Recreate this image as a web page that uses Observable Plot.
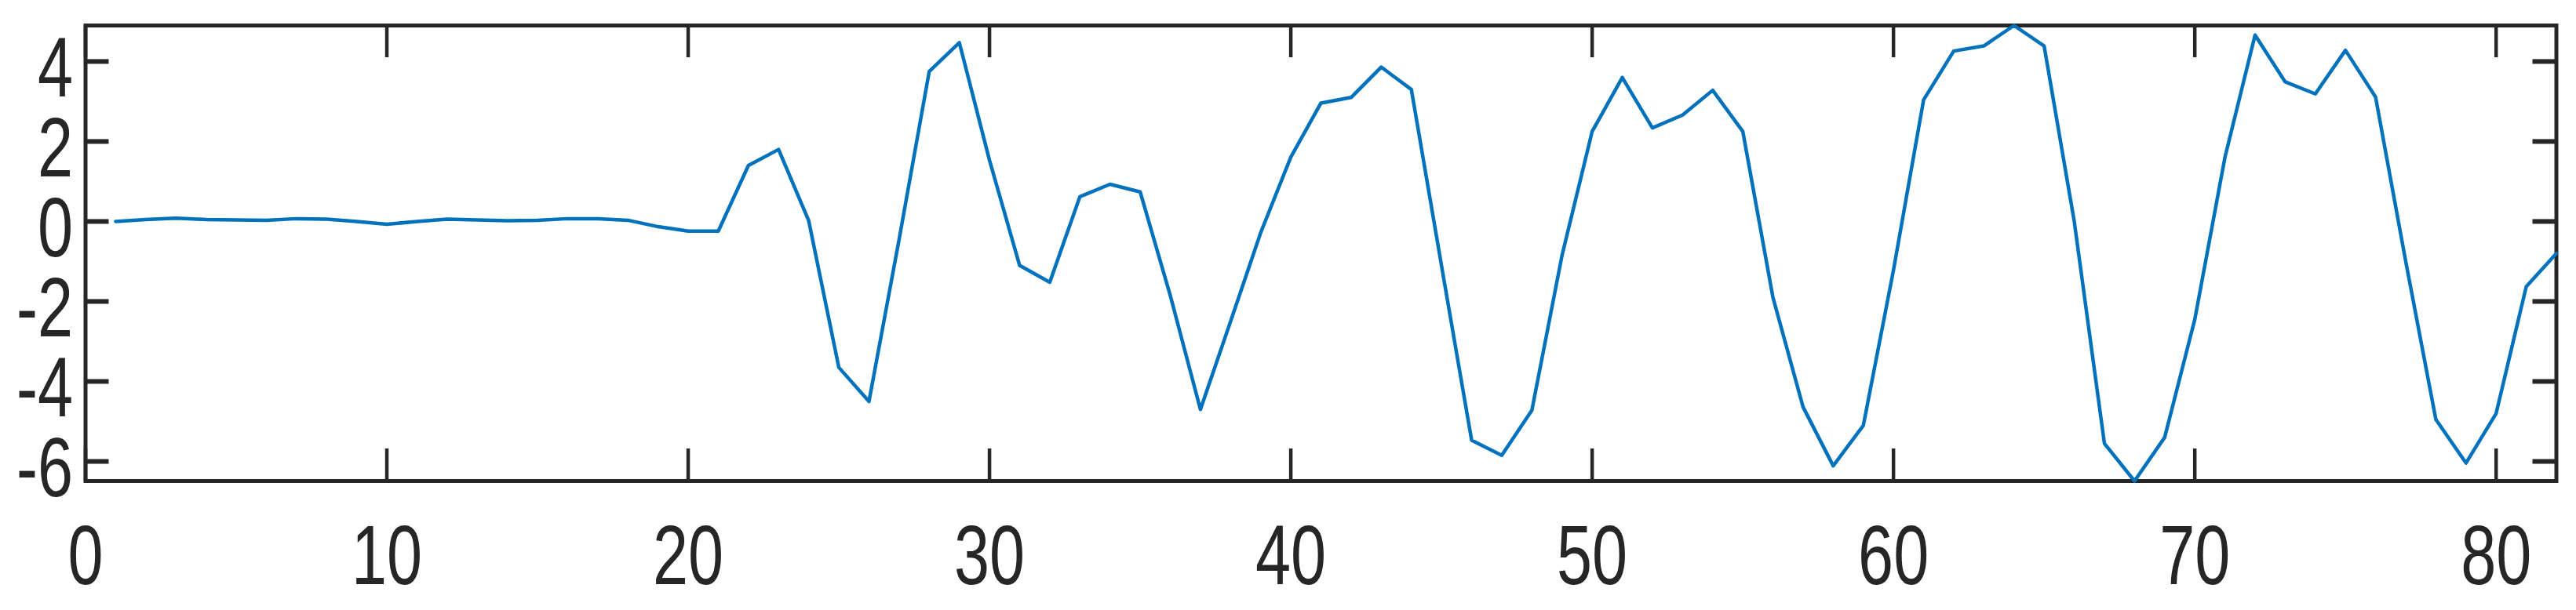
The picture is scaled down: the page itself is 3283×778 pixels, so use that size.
<!DOCTYPE html>
<html>
<head>
<meta charset="utf-8">
<script src="https://cdn.jsdelivr.net/npm/d3@7"></script>
<script src="https://cdn.jsdelivr.net/npm/@observablehq/plot@0.6"></script>
<style>
  html, body { margin: 0; padding: 0; background: #fff; }
</style>
</head>
<body>
<div id="chart"></div>
<script>
const xValues = [1,2,3,4,5,6,7,8,9,10,11,12,13,14,15,16,17,18,19,20,
  21,22,23,24,25,26,27,28,29,30,31,32,33,34,35,36,37,38,39,40,
  41,42,43,44,45,46,47,48,49,50,51,52,53,54,55,56,57,58,59,60,
  61,62,63,64,65,66,67,68,69,70,71,72,73,74,75,76,77,78,79,80,81,82];
const yValues = [0.0,0.05,0.08,0.05,0.04,0.03,0.07,0.06,0.0,-0.07,
  0.0,0.06,0.04,0.02,0.03,0.07,0.07,0.03,-0.13,-0.24,
  -0.24,1.4,1.8,0.02,-3.65,-4.5,-0.45,3.75,4.47,1.53,
  -1.1,-1.52,0.62,0.93,0.74,-1.85,-4.7,-2.5,-0.28,1.61,
  2.96,3.1,3.86,3.3,-1.1,-5.47,-5.85,-4.72,-0.85,2.25,
  3.6,2.34,2.66,3.28,2.25,-1.9,-4.64,-6.11,-5.1,-1.22,
  3.04,4.26,4.39,4.9,4.39,0.0,-5.55,-6.49,-5.4,-2.45,
  1.6,4.66,3.49,3.19,4.28,3.11,-1.0,-4.95,-6.04,-4.8,-1.63,-0.8];
const xTicks = [0,10,20,30,40,50,60,70,80];
const xTickLabels = ["0","10","20","30","40","50","60","70","80"];
const yTicks = [-6,-4,-2,0,2,4];
const yTickLabels = ["-6","-4","-2","0","2","4"];
const xDomain = [0, 82];
const yDomain = [-6.49, 4.9];

const W = 3283, H = 778;
const mL = 108.5, mR = 25.5, mT = 32, mB = 165;
const innerW = W - mL - mR, innerH = H - mT - mB;
const xTickLen = 41, yTickLen = 30;
const axisColor = "#262626";
const lineColor = "#0072BD";
const TEXT_SQUASH = 0.75;
const data = xValues.map((x, i) => ({x, y: yValues[i]}));

const chart = Plot.plot({
  width: W,
  height: H,
  marginLeft: mL,
  marginRight: mR,
  marginTop: mT,
  marginBottom: mB,
  x: {domain: xDomain, axis: null},
  y: {domain: yDomain, axis: null},
  style: {
    background: "white",
    fontFamily: "'Liberation Sans', Arial, Helvetica, sans-serif",
    fontSize: "108px",
    color: axisColor
  },
  marks: [
    Plot.tickX(xTicks, {x: d => d, stroke: axisColor, strokeWidth: 4.5, insetBottom: innerH - xTickLen}),
    Plot.tickX(xTicks, {x: d => d, stroke: axisColor, strokeWidth: 4.5, insetTop: innerH - xTickLen}),
    Plot.tickY(yTicks, {y: d => d, stroke: axisColor, strokeWidth: 6, insetRight: innerW - yTickLen}),
    Plot.tickY(yTicks, {y: d => d, stroke: axisColor, strokeWidth: 6, insetLeft: innerW - yTickLen}),
    Plot.frame({stroke: axisColor, strokeWidth: 5}),
    Plot.line(data, {x: "x", y: "y", stroke: lineColor, strokeWidth: 4.5}),
    Plot.text(xTicks, {x: d => d, text: (d, i) => xTickLabels[i], frameAnchor: "bottom", lineAnchor: "top",
      dy: 55, fill: axisColor, fontSize: 108, className: "tick-label"}),
    Plot.text(yTicks, {y: d => d, text: (d, i) => yTickLabels[i], frameAnchor: "left", textAnchor: "end",
      dx: -16, dy: 10, fill: axisColor, fontSize: 108, className: "tick-label"})
  ]
});

// narrow the tick-label glyphs horizontally, like the reference's condensed lettering
chart.querySelectorAll("text").forEach(el => {
  const t = el.getAttribute("transform");
  if (t) {
    el.setAttribute("transform", `${t} scale(${TEXT_SQUASH},1)`);
  } else {
    const x = +(el.getAttribute("x") || 0), y = +(el.getAttribute("y") || 0);
    el.removeAttribute("x"); el.removeAttribute("y");
    el.setAttribute("transform", `translate(${x},${y}) scale(${TEXT_SQUASH},1)`);
  }
});
document.getElementById("chart").appendChild(chart);
</script>
</body>
</html>
